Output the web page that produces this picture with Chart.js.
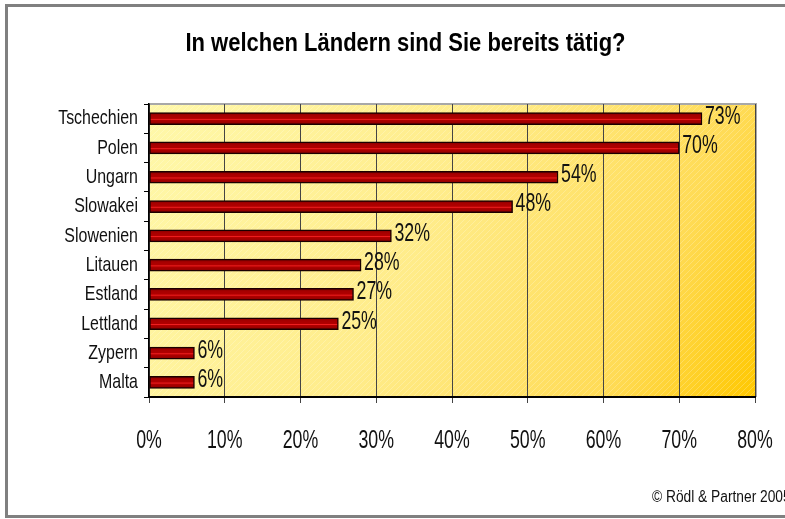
<!DOCTYPE html>
<html>
<head>
<meta charset="utf-8">
<script src="https://cdn.jsdelivr.net/npm/chart.js@4.4.1/dist/chart.umd.min.js"></script>
<style>
html,body{margin:0;padding:0;background:#fff;}
#wrap{position:relative;width:785px;height:519px;overflow:hidden;}
canvas{display:block;}
</style>
</head>
<body>
<div id="wrap"><canvas id="c" width="785" height="519"></canvas></div>
<script>
const titleText = 'In welchen Ländern sind Sie bereits tätig?';
const countries = ['Tschechien','Polen','Ungarn','Slowakei','Slowenien','Litauen','Estland','Lettland','Zypern','Malta'];
const shares = [73, 70, 54, 48, 32, 28, 27, 25, 6, 6];
const xTicks = [0, 10, 20, 30, 40, 50, 60, 70, 80];
const sourceNote = '© Rödl & Partner 2005';

const FONT = '"Liberation Sans", Arial, sans-serif';

// condensed look: squeeze text horizontally around its anchor point
const canvas = document.getElementById('c');
const ctx0 = canvas.getContext('2d');
const rawFill = CanvasRenderingContext2D.prototype.fillText;
function squeezeFor(font) {
  if (/bold/.test(font)) return 0.88;
  const m = font.match(/(\d+(?:\.\d+)?)px/);
  const s = m ? parseFloat(m[1]) : 0;
  if (s === 21) return 0.76;
  if (s === 25) return 0.71;
  if (s === 16) return 0.86;
  return 1;
}
ctx0.fillText = function(t, x, y, mw) {
  const sx = squeezeFor(this.font);
  this.save();
  this.translate(x, y);
  this.scale(sx, 1);
  if (mw === undefined || mw === null) rawFill.call(this, t, 0, 0);
  else rawFill.call(this, t, 0, 0, mw / sx);
  this.restore();
};

const bgPlugin = {
  id: 'bg',
  beforeDraw(chart) {
    const ctx = chart.ctx, a = chart.chartArea;
    ctx.save();
    ctx.fillStyle = '#fff';
    ctx.fillRect(0, 0, chart.width, chart.height);
    ctx.fillStyle = '#808080';
    ctx.fillRect(5, 4, chart.width, 3);
    ctx.fillRect(5, 4, 3, 514);
    ctx.fillRect(5, 515, chart.width, 3);
    const g = ctx.createLinearGradient(a.left, a.top, a.right, a.bottom);
    g.addColorStop(0, '#FFF8AA');
    g.addColorStop(0.45, '#FFEC8A');
    g.addColorStop(0.8, '#FFDB55');
    g.addColorStop(1, '#FFC800');
    ctx.fillStyle = g;
    ctx.fillRect(a.left, a.top, a.right - a.left, a.bottom - a.top);
    const pc = document.createElement('canvas');
    pc.width = 6; pc.height = 6;
    const p = pc.getContext('2d');
    p.strokeStyle = 'rgba(255,255,255,0.22)';
    p.lineWidth = 1;
    p.beginPath(); p.moveTo(0, 6); p.lineTo(6, 0); p.stroke();
    ctx.fillStyle = ctx.createPattern(pc, 'repeat');
    ctx.fillRect(a.left, a.top, a.right - a.left, a.bottom - a.top);
    ctx.strokeStyle = '#A8A8A8';
    ctx.lineWidth = 2;
    ctx.beginPath();
    ctx.moveTo(a.left, a.top);
    ctx.lineTo(a.right + 1, a.top);
    ctx.lineTo(a.right + 1, a.bottom);
    ctx.stroke();
    ctx.restore();
  },
  afterDraw(chart) {
    const ctx = chart.ctx;
    ctx.save();
    ctx.fillStyle = '#111';
    ctx.font = '16px ' + FONT;
    ctx.textBaseline = 'middle';
    ctx.textAlign = 'left';
    ctx.fillText(sourceNote, 652, 498);
    ctx.restore();
  }
};

const labelPlugin = {
  id: 'vals',
  afterDatasetsDraw(chart) {
    const ctx = chart.ctx;
    const meta = chart.getDatasetMeta(0);
    ctx.save();
    ctx.fillStyle = '#111';
    ctx.font = '25px ' + FONT;
    ctx.textBaseline = 'middle';
    ctx.textAlign = 'left';
    meta.data.forEach((bar, i) => {
      ctx.fillText(shares[i] + '%', bar.x + 3, bar.y - 2);
    });
    ctx.restore();
  }
};

function barFill(context) {
  const chart = context.chart;
  const y = chart.scales && chart.scales.y;
  if (!y || context.dataIndex === undefined) return '#A00000';
  const cy = y.getPixelForValue(context.dataIndex);
  if (!isFinite(cy)) return '#A00000';
  const g = chart.ctx.createLinearGradient(0, cy - 6, 0, cy + 6);
  g.addColorStop(0, '#800000');
  g.addColorStop(0.25, '#A80000');
  g.addColorStop(0.48, '#B00000');
  g.addColorStop(0.56, '#F02020');
  g.addColorStop(0.64, '#B00000');
  g.addColorStop(1, '#8A0000');
  return g;
}

new Chart(canvas, {
  type: 'bar',
  data: {
    labels: countries,
    datasets: [{
      data: shares,
      backgroundColor: barFill,
      borderColor: '#1a0000',
      borderWidth: 1.5,
      borderSkipped: false,
      barThickness: 12
    }]
  },
  options: {
    indexAxis: 'y',
    responsive: false,
    animation: false,
    layout: { padding: { left: 26, right: 0, top: 0, bottom: 0 } },
    plugins: {
      legend: { display: false },
      tooltip: { enabled: false },
      title: {
        display: true,
        text: titleText,
        color: '#000',
        font: { family: FONT, size: 25, weight: 'bold', lineHeight: 1.2 },
        padding: { top: 29, bottom: 45 }
      }
    },
    scales: {
      x: {
        min: 0, max: 80,
        afterBuildTicks(scale) { scale.ticks = xTicks.map(v => ({ value: v })); },
        afterFit(scale) { scale.height = 122; scale.paddingRight = 30; scale.paddingLeft = 0; },
        ticks: {
          callback: v => v + '%',
          color: '#111',
          font: { family: FONT, size: 25 },
          padding: 23,
          maxRotation: 0
        },
        grid: { color: '#444', lineWidth: 1, tickLength: 6, drawTicks: true },
        border: { color: '#000', width: 2 }
      },
      y: {
        afterFit(scale) { scale.width = 123; },
        ticks: {
          color: '#111',
          font: { family: FONT, size: 21 },
          padding: 6
        },
        grid: { drawOnChartArea: false, offset: true, tickLength: 5, color: '#000' },
        border: { color: '#000', width: 1.5 }
      }
    }
  },
  plugins: [bgPlugin, labelPlugin]
});
</script>
</body>
</html>
